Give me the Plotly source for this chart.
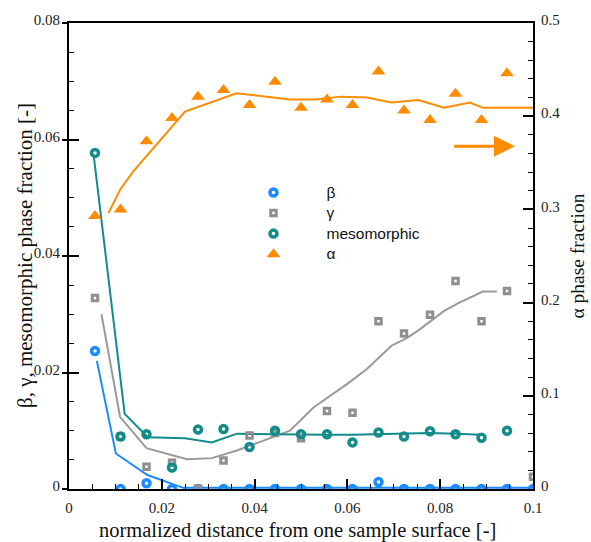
import plotly.graph_objects as go

# ---- data ----
x_pts = [0.0056, 0.0111, 0.0167, 0.0222, 0.0278, 0.0333, 0.0389, 0.0444, 0.0500,
         0.0556, 0.0611, 0.0667, 0.0722, 0.0778, 0.0833, 0.0889, 0.0944, 0.1000]
beta_pts = [0.0237, 0, 0.0010, 0, 0, 0, 0, 0, 0, 0, 0, 0.0012, 0, 0, 0, 0, 0, 0]
gamma_pts = [0.0328, 0.0090, 0.0038, 0.0045, 0.0001, 0.0049, 0.0092, 0.0096, 0.0087,
             0.0134, 0.0131, 0.0288, 0.0267, 0.0299, 0.0357, 0.0288, 0.0340, 0.0021]
meso_pts = [0.0577, 0.0090, 0.0094, 0.0037, 0.0102, 0.0103, 0.0072, 0.0100, 0.0094,
            0.0094, 0.0080, 0.0097, 0.0090, 0.0099, 0.0094, 0.0088, 0.0100]
alpha_pts = [0.293, 0.300, 0.373, 0.398, 0.421, 0.428, 0.412, 0.437, 0.409,
             0.418, 0.412, 0.448, 0.406, 0.396, 0.424, 0.396, 0.446]

beta_line_x = [0.0060, 0.0101, 0.0169, 0.0246, 0.1000]
beta_line_y = [0.0220, 0.0061, 0.0024, 0.0002, 0.0002]
gamma_line_x = [0.0070, 0.0110, 0.0167, 0.0254, 0.0308, 0.0362, 0.0412, 0.0476, 0.0527,
                0.0563, 0.0599, 0.0642, 0.0695, 0.0728, 0.0756, 0.0807, 0.0839, 0.0892, 0.0922]
gamma_line_y = [0.0300, 0.0124, 0.0070, 0.0051, 0.0053, 0.0066, 0.0081, 0.0100, 0.0140,
                0.0160, 0.0180, 0.0206, 0.0246, 0.0259, 0.0274, 0.0305, 0.0319, 0.0339, 0.0339]
meso_line_x = [0.0053, 0.0120, 0.0170, 0.0250, 0.0308, 0.0362, 0.0444, 0.0500, 0.0556,
               0.0611, 0.0667, 0.0722, 0.0778, 0.0833, 0.0889]
meso_line_y = [0.0574, 0.0129, 0.0089, 0.0087, 0.0080, 0.0095, 0.0094, 0.0093, 0.0093,
               0.0093, 0.0094, 0.0094, 0.0096, 0.0095, 0.0093]
alpha_line_x = [0.0085, 0.0111, 0.0139, 0.0250, 0.0361, 0.0476, 0.0530, 0.0586, 0.0642,
                0.0695, 0.0753, 0.0808, 0.0864, 0.0892, 0.1000]
alpha_line_y = [0.296, 0.322, 0.341, 0.405, 0.4245, 0.418, 0.418, 0.421, 0.420,
                0.4146, 0.4174, 0.409, 0.4146, 0.409, 0.409]

x_ticks = [0, 0.02, 0.04, 0.06, 0.08, 0.1]
x_ticktext = ["0", "0.02", "0.04", "0.06", "0.08", "0.1"]
y_ticks = [0, 0.02, 0.04, 0.06, 0.08]
y_ticktext = ["0", "0.02", "0.04", "0.06", "0.08"]
y2_ticks = [0, 0.1, 0.2, 0.3, 0.4, 0.5]
y2_ticktext = ["0", "0.1", "0.2", "0.3", "0.4", "0.5"]

legend_names = ["β", "γ", "mesomorphic", "α"]

BLUE = "#1a8cff"
GRAY = "#8f8f8f"
GRAY_LINE = "#9a9a9a"
TEAL = "#128c8a"
ORANGE = "#ff8c00"
SERIF = "Liberation Serif"
SANS = "Liberation Sans"


def lname(s):
    return '<span style="font-size:15.5px">' + s + '</span>'


fig = go.Figure()

# lines (no legend)
fig.add_trace(go.Scatter(x=beta_line_x, y=beta_line_y, mode="lines",
                         line=dict(color=BLUE, width=2), showlegend=False, hoverinfo="skip"))
fig.add_trace(go.Scatter(x=gamma_line_x, y=gamma_line_y, mode="lines",
                         line=dict(color=GRAY_LINE, width=2), showlegend=False, hoverinfo="skip"))
fig.add_trace(go.Scatter(x=meso_line_x, y=meso_line_y, mode="lines",
                         line=dict(color=TEAL, width=2), showlegend=False, hoverinfo="skip"))
fig.add_trace(go.Scatter(x=alpha_line_x, y=alpha_line_y, mode="lines", yaxis="y2",
                         line=dict(color=ORANGE, width=2), showlegend=False, hoverinfo="skip"))

# markers
fig.add_trace(go.Scatter(x=x_pts, y=beta_pts, mode="markers", name=lname(legend_names[0]),
                         marker=dict(symbol="circle-open", size=7, color=BLUE,
                                     line=dict(width=3.5, color=BLUE))))
fig.add_trace(go.Scatter(x=x_pts, y=gamma_pts, mode="markers", name=lname(legend_names[1]),
                         marker=dict(symbol="square-open", size=5.5, color=GRAY,
                                     line=dict(width=3, color=GRAY))))
fig.add_trace(go.Scatter(x=x_pts[:len(meso_pts)], y=meso_pts, mode="markers",
                         name=lname(legend_names[2]),
                         marker=dict(symbol="circle-open", size=7, color=TEAL,
                                     line=dict(width=3.5, color=TEAL))))
fig.add_trace(go.Scatter(x=x_pts[:len(alpha_pts)], y=alpha_pts, mode="markers",
                         name=lname(legend_names[3]), yaxis="y2",
                         marker=dict(symbol="triangle-up", size=12, color=ORANGE,
                                     line=dict(width=0))))

axis_common = dict(showgrid=False, zeroline=False, showline=True, linecolor="black",
                   linewidth=2, ticks="inside", ticklen=10, tickwidth=1.5, tickcolor="black")
tickfont = dict(family=SERIF, size=15, color="#222")

fig.update_layout(
    width=591, height=542,
    margin=dict(l=69, r=58, t=19, b=53),
    plot_bgcolor="white", paper_bgcolor="white",
    xaxis=dict(range=[0, 0.1], tickvals=x_ticks, ticktext=x_ticktext, mirror=True,
               tickfont=tickfont, ticklabelstandoff=4,
               minor=dict(ticks="inside", dtick=0.005, tick0=0, ticklen=5, tickwidth=1, tickcolor="black"),
               **axis_common),
    yaxis=dict(range=[0, 0.08], tickvals=y_ticks, ticktext=y_ticktext,
               tickfont=tickfont, ticklabelstandoff=4, ticklabelshift=-3,
               minor=dict(ticks="inside", dtick=0.005, tick0=0, ticklen=5, tickwidth=1, tickcolor="black"),
               **axis_common),
    yaxis2=dict(range=[0, 0.5], tickvals=y2_ticks, ticktext=y2_ticktext, overlaying="y",
                side="right", anchor="x",
                tickfont=tickfont, ticklabelstandoff=3, ticklabelshift=-3,
                minor=dict(ticks="inside", dtick=0.02, tick0=0, ticklen=5, tickwidth=1, tickcolor="black"),
                **axis_common),
    yaxis3=dict(range=[0, 0.08], tickvals=y_ticks, overlaying="y", side="left", anchor="x",
                showticklabels=False, ticks="outside", ticklen=6, tickwidth=1.5, tickcolor="black",
                showgrid=False, zeroline=False, showline=False),
    legend=dict(x=0.3265, y=0.669, xanchor="left", yanchor="top", bgcolor="rgba(0,0,0,0)",
                font=dict(family=SANS, size=13.5, color="#111"), itemwidth=96,
                tracegroupgap=0),
    showlegend=True,
)

# dummy trace to anchor yaxis3
fig.add_trace(go.Scatter(x=[None], y=[None], yaxis="y3", showlegend=False, hoverinfo="skip"))

# axis titles as annotations
fig.add_annotation(text="normalized distance from one sample surface [-]",
                   xref="paper", yref="paper", x=0.4925, y=-0.0894,
                   xanchor="center", yanchor="middle", showarrow=False,
                   font=dict(family=SERIF, size=20.5, color="#111"))
fig.add_annotation(text="β, γ, mesomorphic phase fraction [-]",
                   xref="paper", yref="paper", x=-0.0948, y=0.5, textangle=-90,
                   xanchor="center", yanchor="middle", showarrow=False,
                   font=dict(family=SERIF, size=21, color="#111"))
fig.add_annotation(text="α phase fraction",
                   xref="paper", yref="paper", x=1.094, y=0.50, textangle=-90,
                   xanchor="center", yanchor="middle", showarrow=False,
                   font=dict(family=SERIF, size=19.5, color="#111"))

fig.add_annotation(x=0.0961, y=0.3678, xref="x", yref="y2",
                   ax=0.0827, ay=0.3678, axref="x", ayref="y2",
                   text="", showarrow=True, arrowhead=2, arrowsize=1.4,
                   arrowwidth=3, arrowcolor=ORANGE)

fig.write_html("out.html")
